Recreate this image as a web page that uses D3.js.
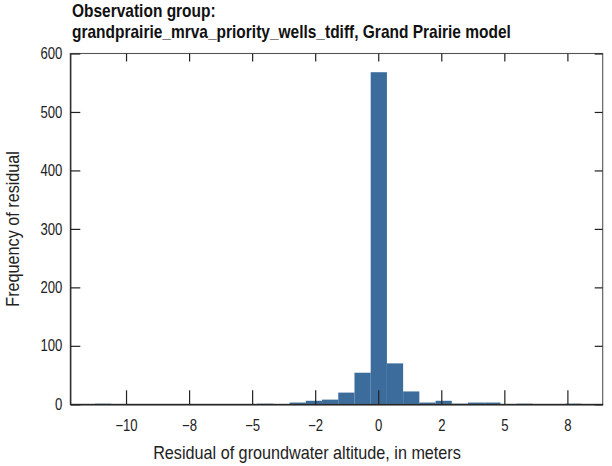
<!DOCTYPE html>
<html>
<head>
<meta charset="utf-8">
<script src="https://cdn.jsdelivr.net/npm/d3@7"></script>
<style>
  body { margin: 0; background: #fff; }
  svg { font-family: "Liberation Sans", Arial, sans-serif; }
</style>
</head>
<body>
<div id="chart"></div>
<script>
// histogram of residuals, equal width bins
const binStart = -11.23
const binWidth = 0.643
const counts = [1, 0, 0, 0, 0, 0, 0, 0, 0, 0,
                1, 0, 3, 6, 8, 20, 54, 568, 70, 22,
                3, 6, 1, 3, 3, 0, 1, 0, 0, 1]

const xLimits = [-12.21, 8.9]
const yLimits = [0, 600]
const xTickValues = [-10, -7.5, -5, -2.5, 0, 2.5, 5, 7.5]
const xTickLabels = ["\u221210", "\u22128", "\u22125", "\u22122", "0", "2", "5", "8"]
const yTickValues = [0, 100, 200, 300, 400, 500, 600]

const titleLines = ["Observation group:", "grandprairie_mrva_priority_wells_tdiff, Grand Prairie model"]

const W = 612, H = 466
const MARGIN = { TOP: 53.5, BOTTOM: 61.7, LEFT: 70.3, RIGHT: 9.3 }
const WIDTH = W - MARGIN.LEFT - MARGIN.RIGHT
const HEIGHT = H - MARGIN.TOP - MARGIN.BOTTOM

// no condensed font installed, so squeeze text horizontally
const NARROW = 0.82
const NARROW_LABEL = 0.9
const NARROW_TITLE = 0.815

const svg = d3.select("#chart").append("svg")
  .attr("width", W)
  .attr("height", H)

const g = svg.append("g")
  .attr("transform", `translate(${MARGIN.LEFT}, ${MARGIN.TOP})`)

const x = d3.scaleLinear().domain(xLimits).range([0, WIDTH])
const y = d3.scaleLinear().domain(yLimits).range([HEIGHT, 0])

const bins = counts.map((c, i) => ({ x0: binStart + i * binWidth, x1: binStart + (i + 1) * binWidth, n: c }))

g.selectAll("rect.bar")
  .data(bins.filter(d => d.n > 0))
  .enter().append("rect")
  .attr("class", "bar")
  .attr("x", d => x(d.x0))
  .attr("width", d => x(d.x1) - x(d.x0))
  .attr("y", d => y(d.n))
  .attr("height", d => y(0) - y(d.n))
  .attr("fill", "#3b6c9c")

// frame
g.append("rect")
  .attr("width", WIDTH)
  .attr("height", HEIGHT)
  .attr("fill", "none")
  .attr("stroke", "#555")
  .attr("stroke-width", 1.1)

// bottom axis, ticks inward
const xAxis = g.append("g")
  .attr("transform", `translate(0, ${HEIGHT})`)
  .call(d3.axisBottom(x).tickValues(xTickValues).tickFormat((d, i) => xTickLabels[i])
    .tickSizeInner(-14).tickSizeOuter(0).tickPadding(15))
xAxis.select(".domain").attr("stroke", "#111").attr("stroke-width", 1.3)
xAxis.selectAll(".tick line").attr("stroke", "#222").attr("stroke-width", 1.2)
xAxis.selectAll("text")
  .attr("font-size", 16)
  .attr("fill", "#222")
  .attr("transform", `scale(${NARROW},1)`)

// top ticks
const xTop = g.append("g")
  .call(d3.axisTop(x).tickValues(xTickValues).tickFormat("").tickSizeInner(-8).tickSizeOuter(0))
xTop.select(".domain").remove()
xTop.selectAll(".tick line").attr("stroke", "#222").attr("stroke-width", 1.2)

// left axis
const yPad = 8
const yAxis = g.append("g")
  .call(d3.axisLeft(y).tickValues(yTickValues).tickSizeInner(-10).tickSizeOuter(0).tickPadding(yPad))
yAxis.select(".domain").attr("stroke", "#222").attr("stroke-width", 1.2)
yAxis.selectAll(".tick line").attr("stroke", "#222").attr("stroke-width", 1.2)
yAxis.selectAll("text")
  .attr("font-size", 16)
  .attr("fill", "#222")
  .attr("x", -yPad / NARROW)
  .attr("transform", `scale(${NARROW},1)`)

// right ticks
const yRight = g.append("g")
  .attr("transform", `translate(${WIDTH}, 0)`)
  .call(d3.axisRight(y).tickValues(yTickValues).tickFormat("").tickSizeInner(-8).tickSizeOuter(0))
yRight.select(".domain").remove()
yRight.selectAll(".tick line").attr("stroke", "#222").attr("stroke-width", 1.2)

// axis labels
svg.append("text")
  .attr("transform", `translate(307, 459) scale(${NARROW_LABEL},1)`)
  .attr("text-anchor", "middle")
  .attr("font-size", 18)
  .attr("fill", "#222")
  .text("Residual of groundwater altitude, in meters")

svg.append("text")
  .attr("transform", `translate(19, ${MARGIN.TOP + HEIGHT / 2}) rotate(-90) scale(${NARROW_LABEL},1)`)
  .attr("text-anchor", "middle")
  .attr("font-size", 18)
  .attr("fill", "#222")
  .text("Frequency of residual")

// title
svg.selectAll("text.title")
  .data(titleLines)
  .enter().append("text")
  .attr("class", "title")
  .attr("transform", (d, i) => `translate(72, ${16.7 + i * 21}) scale(${NARROW_TITLE},1)`)
  .attr("font-size", 19)
  .attr("font-weight", "bold")
  .attr("fill", "#111")
  .text(d => d)
</script>
</body>
</html>
